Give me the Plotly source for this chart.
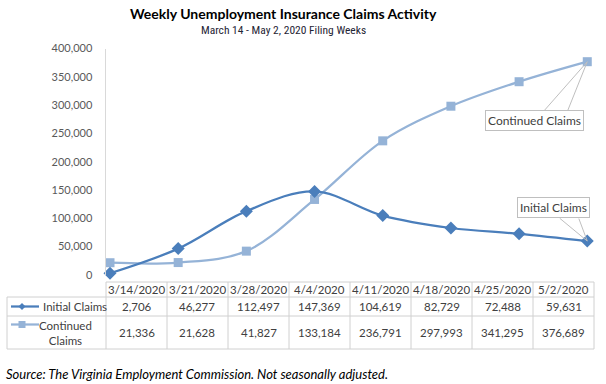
import plotly.graph_objects as go

# ---- data ----
weeks = ["3/14/2020", "3/21/2020", "3/28/2020", "4/4/2020",
         "4/11/2020", "4/18/2020", "4/25/2020", "5/2/2020"]
initial_claims = [2706, 46277, 112497, 147369, 104619, 82729, 72488, 59631]
continued_claims = [21336, 21628, 41827, 133184, 236791, 297993, 341295, 376689]
y_ticks = [0, 50000, 100000, 150000, 200000, 250000, 300000, 350000, 400000]

W, H = 606, 384
C_INIT = "#4A7EBB"
C_CONT = "#95B3D7"
GRID = "#D0D0D0"
TXT = "#404040"
FONT = "Lato, Carlito, sans-serif"


def px(x):
    return x / W


def py(y):
    return 1 - y / H


x_idx = list(range(len(weeks)))

fig = go.Figure()
fig.add_trace(go.Scatter(
    x=x_idx, y=continued_claims, mode="lines+markers", name="Continued Claims",
    line=dict(color=C_CONT, width=2.25, shape="spline", smoothing=1.0),
    marker=dict(symbol="square", size=9, color=C_CONT),
    cliponaxis=False, showlegend=False))
fig.add_trace(go.Scatter(
    x=x_idx, y=initial_claims, mode="lines+markers", name="Initial Claims",
    line=dict(color=C_INIT, width=2.25, shape="spline", smoothing=1.0),
    marker=dict(symbol="diamond", size=10, color=C_INIT),
    cliponaxis=False, showlegend=False))

fig.update_layout(
    width=W, height=H,
    margin=dict(l=0, r=0, t=0, b=0, pad=0, autoexpand=False),
    paper_bgcolor="white", plot_bgcolor="rgba(0,0,0,0)",
    font=dict(family=FONT, color=TXT),
    xaxis=dict(domain=[px(105.5), px(590)], range=[-0.066, 7.04],
               showticklabels=False, showgrid=False, zeroline=False,
               showline=False, ticks="", automargin=False),
    yaxis=dict(domain=[py(274.8), py(48.5)], range=[0, 400000],
               tickvals=y_ticks, tickformat=",",
               tickfont=dict(size=11, color="#595959", family=FONT),
               showgrid=False, zeroline=False, showline=True, automargin=False,
               linecolor="#D9D9D9", linewidth=1, ticks="", ticklabelstandoff=10),
)

ann = []
shapes = []


def pann(x, y, text, xanchor="center", yanchor="middle", **kw):
    d = dict(x=px(x), y=py(y), xref="paper", yref="paper", text=text,
             showarrow=False, xanchor=xanchor, yanchor=yanchor)
    d.update(kw)
    ann.append(d)


def pline(x0, y0, x1, y1, color=GRID, width=1):
    shapes.append(dict(type="line", xref="paper", yref="paper",
                       x0=px(x0), x1=px(x1), y0=py(y0), y1=py(y1),
                       line=dict(color=color, width=width), layer="above"))


# titles
pann(283, 13.5, "<b>Weekly Unemployment Insurance Claims Activity</b>",
     font=dict(size=14, color="#000000", family=FONT))
pann(283, 30, "March 14 - May 2, 2020 Filing Weeks",
     font=dict(size=11.5, color="#1F2535",
               family="Liberation Sans Narrow, Arial Narrow, Roboto Condensed, sans-serif"))


# callouts
def callout(xi, yv, text, ax, ay, lines):
    for (lx, ly) in lines:
        ann.append(dict(x=xi, y=yv, xref="x", yref="y", text="", showarrow=True,
                        arrowhead=0, arrowwidth=1, arrowcolor="#BFBFBF",
                        ax=lx, ay=ly, standoff=0))
    ann.append(dict(x=xi, y=yv, xref="x", yref="y", text=text, showarrow=True,
                    arrowcolor="rgba(0,0,0,0)", arrowwidth=0.1, ax=ax, ay=ay,
                    bordercolor="#BFBFBF", borderwidth=1, borderpad=2,
                    bgcolor="white", font=dict(size=12, color=TXT, family=FONT)))


last = len(weeks) - 1
callout(last, continued_claims[last], "Continued Claims", -53, 59,
        [(-44, 50), (-20, 50)])
callout(last, initial_claims[last], "Initial Claims", -34, -34,
        [(-29, -24), (-9, -24)])

# ---- data table ----
tx0, tx_label, col_w = 106, 7, 61
ty = [282, 297, 316, 349]
tx_end = tx0 + col_w * len(weeks)
pline(tx0, ty[0], tx_end, ty[0])
for yy in ty[1:]:
    pline(tx_label, yy, tx_end, yy)
pline(tx_label, ty[1], tx_label, ty[3])
for i in range(len(weeks) + 1):
    xx = tx0 + col_w * i
    pline(xx, ty[0], xx, ty[3])

tfont = dict(size=11.5, color=TXT, family=FONT)
for i, wk in enumerate(weeks):
    cx = tx0 + col_w * (i + 0.5)
    pann(cx, (ty[0] + ty[1]) / 2, wk, font=tfont)
    pann(cx, (ty[1] + ty[2]) / 2, f"{initial_claims[i]:,}", font=tfont)
    pann(cx, (ty[2] + ty[3]) / 2, f"{continued_claims[i]:,}", font=tfont)

# row labels with legend keys
r1 = (ty[1] + ty[2]) / 2
r2 = (ty[2] + ty[3]) / 2 - 8
pline(11, r1, 39, r1, color=C_INIT, width=2.25)
shapes.append(dict(type="path", xref="paper", yref="paper",
                   path=(f"M {px(18.5)} {py(r1)} L {px(22)} {py(r1 - 3.5)} "
                         f"L {px(25.5)} {py(r1)} L {px(22)} {py(r1 + 3.5)} Z"),
                   fillcolor=C_INIT, line=dict(width=0)))
pline(11, r2, 39, r2, color=C_CONT, width=2.25)
shapes.append(dict(type="rect", xref="paper", yref="paper",
                   x0=px(18.5), x1=px(25.5), y0=py(r2 - 3.5), y1=py(r2 + 3.5),
                   fillcolor=C_CONT, line=dict(width=0)))
pann(41, r1, "Initial Claims", xanchor="left", font=tfont)
pann(65, (ty[2] + ty[3]) / 2, "Continued<br>Claims", align="center", font=tfont)

# source
pann(4, 374, "<i>Source: The Virginia Employment Commission. Not seasonally adjusted.</i>",
     xanchor="left", font=dict(size=13, color="#000000", family=FONT))

fig.update_layout(annotations=ann, shapes=shapes)
fig.write_html(
    "out.html",
    config={"displayModeBar": False},
    post_script=(
        "var de=document.documentElement, b=document.body;"
        "de.style.margin='0'; de.style.overflow='hidden';"
        "b.style.margin='0'; b.style.overflow='hidden';"
    ),
)
